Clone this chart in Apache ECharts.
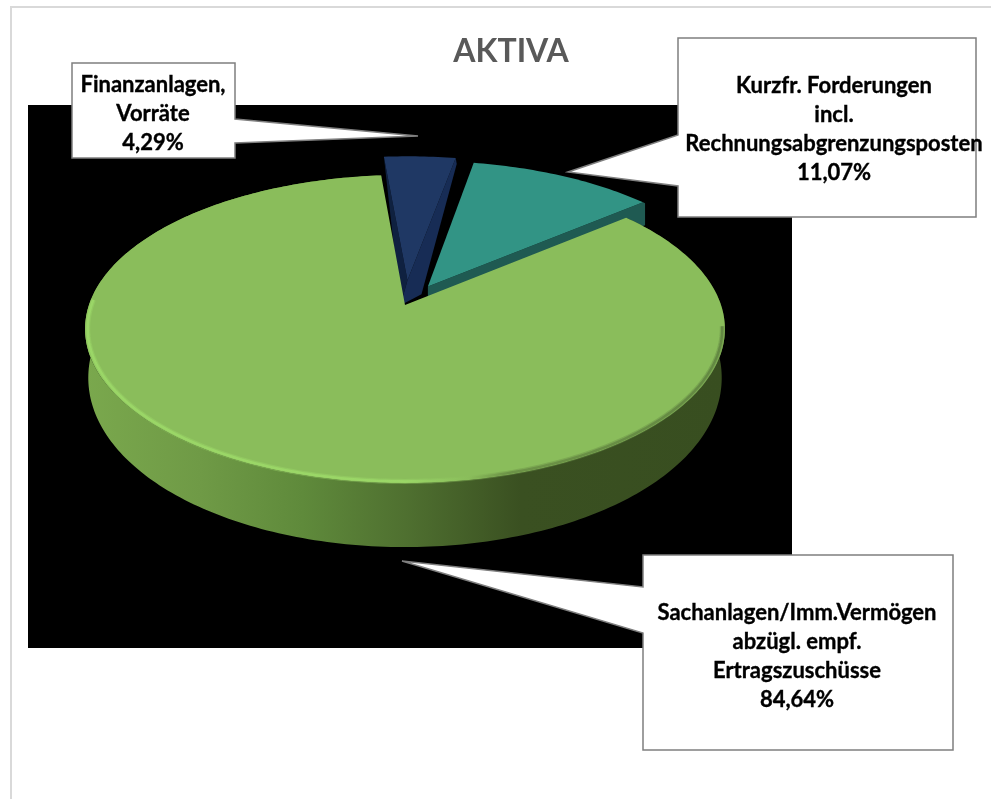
<!DOCTYPE html>
<html>
<head>
<meta charset="utf-8">
<style>
  html, body { margin: 0; padding: 0; background: #fff; }
  #main { width: 991px; height: 799px; }
</style>
<script src="https://cdn.jsdelivr.net/npm/echarts@6/dist/echarts.min.js"></script>
</head>
<body>
<div id="main"></div>
<script>
// data
const categories = [
  'Sachanlagen/Imm.Vermögen\nabzügl. empf.\nErtragszuschüsse',
  'Finanzanlagen,\nVorräte',
  'Kurzfr. Forderungen\nincl.\nRechnungsabgrenzungsposten'
];
const values = [84.64, 4.29, 11.07];
const explode = [0, 0.17, 0.146];
const drawOrder = [1, 2, 0];

// pie projection: unit circle on a tilted plane -> screen
const firstAngle = 50.3;
const cx = 405, cy = 305, ax = 316, by = 150.3, persp = 0.156;

const total = values.reduce((a, b) => a + b, 0);
const slices = [];
let run = firstAngle;
values.forEach((v, i) => {
  const span = v / total * 360;
  slices.push({ from: run, to: run + span, mid: run + span / 2, e: explode[i] });
  run += span;
});

function rad(d) { return d * Math.PI / 180; }

function project(slice, deg, r) {
  const u = r * Math.sin(rad(deg)) + slice.e * Math.sin(rad(slice.mid));
  const v = r * Math.cos(rad(deg)) + slice.e * Math.cos(rad(slice.mid));
  const w = 1 + persp * v;
  return [cx + ax * u / w, cy - by * v / w, v];
}

function arc(slice, from, to, r) {
  const pts = [];
  const n = Math.ceil(Math.abs(to - from));
  for (let i = 0; i <= n; i++) pts.push(project(slice, from + (to - from) * i / n, r));
  return pts;
}

function poly(points, style) {
  return { type: 'polygon', shape: { points: points.map(p => [p[0], p[1]]) }, style: style, silent: true };
}

function shift(p, dx, dy) { return [p[0] + dx, p[1] + dy]; }

const wallGradient = {
  type: 'linear', x: 85, y: 0, x2: 725, y2: 0, global: true,
  colorStops: [
    { offset: 0, color: '#7aa84d' },
    { offset: 0.18, color: '#6f9a46' },
    { offset: 0.34, color: '#5f8a3b' },
    { offset: 0.5, color: '#4f7030' },
    { offset: 0.68, color: '#3a5021' },
    { offset: 1, color: '#384e20' }
  ]
};
const rimGradient = {
  type: 'linear', x: 85, y: 0, x2: 725, y2: 0, global: true,
  colorStops: [
    { offset: 0, color: '#9cd968' },
    { offset: 0.5, color: '#9cd968' },
    { offset: 0.6, color: '#8abd5b' },
    { offset: 0.66, color: '#6a8f45' },
    { offset: 1, color: '#5f8340' }
  ]
};

function rimLine(points, width, opacity) {
  return { type: 'polyline', shape: { points: points.map(p => [p[0], p[1]]) }, silent: true,
    style: { stroke: rimGradient, lineWidth: width, fill: 'none', opacity: opacity } };
}

function renderGreen(slice) {
  const top = arc(slice, slice.from, slice.to, 1);
  const apex = project(slice, 0, 0);
  const low = top.map(p => [cx + (p[0] - cx) * 0.99, p[1] + 46 - 18 * p[2]]);
  const front = arc(slice, 98, 272, 0.992);
  return [
    poly(top.concat(low.slice().reverse()), { fill: wallGradient }),
    poly([apex].concat(top), { fill: '#8abd5b' }),
    rimLine(front, 5, 0.4),
    rimLine(front, 2.5, 0.85)
  ];
}

function renderBlue(slice) {
  const top = arc(slice, slice.from, slice.to, 1);
  const apex = project(slice, 0, 0);
  const left = top[0], right = top[top.length - 1];
  const lowApex = shift(apex, -7, 25);
  return [
    poly([left, apex, lowApex], { fill: '#0f2140' }),
    poly([right, shift(right, 1, 6), shift(apex, 14, 14), lowApex, apex], { fill: '#172c55' }),
    poly([apex].concat(top), { fill: '#1f3864' })
  ];
}

function renderTeal(slice) {
  const top = arc(slice, slice.from, slice.to, 1);
  const apex = project(slice, 0, 0);
  const end = top[top.length - 1];
  return [
    poly([apex, end, shift(end, 2, 1), shift(end, 2, 23), shift(apex, 0, 12)], { fill: '#1f5a52' }),
    poly([apex].concat(top), { fill: '#329485' })
  ];
}

const renderers = [renderGreen, renderBlue, renderTeal];

// callouts: label text comes from the arrays
function labelText(i) {
  return categories[i] + '\n' + values[i].toFixed(2).replace('.', ',') + '%';
}

function callout(points, textX, textY, i) {
  return [
    { type: 'polygon', z: 10, silent: true, shape: { points: points },
      style: { fill: '#fff', stroke: '#7f7f7f', lineWidth: 1.5 } },
    { type: 'text', z: 11, silent: true, x: textX, y: textY,
      style: { text: labelText(i), fill: '#000', stroke: '#000', lineWidth: 0.35, font: 'bold 22px Lato', lineHeight: 29, align: 'center', verticalAlign: 'top' } }
  ];
}

const option = {
  animation: false,
  backgroundColor: '#fff',
  title: {
    text: 'AKTIVA', left: 506, top: 31, textAlign: 'center',
    textStyle: { color: '#595959', fontFamily: 'Lato', fontWeight: 'bold', fontSize: 32 }
  },
  graphic: [
    { type: 'rect', z: 0, silent: true, shape: { x: 11, y: 7, width: 1100, height: 900 },
      style: { fill: '#fff', stroke: '#d9d9d9', lineWidth: 2 } },
    { type: 'rect', z: 0, silent: true, shape: { x: 28, y: 105, width: 764, height: 543 },
      style: { fill: '#000' } },
    ...callout([[72, 63], [235, 63], [235, 119], [418, 136], [235, 143], [235, 158], [72, 158]], 153, 70, 1),
    ...callout([[678, 38], [976, 38], [976, 217], [678, 217], [678, 186], [568, 172], [678, 135]], 834, 71, 2),
    ...callout([[643, 555], [953, 555], [953, 750], [643, 750], [643, 633], [402, 561], [643, 587]], 797, 598, 0)
  ],
  series: [{
    type: 'custom',
    coordinateSystem: 'none',
    silent: true,
    z: 2,
    data: drawOrder.map(i => [i, values[i]]),
    renderItem: function (params, api) {
      const i = api.value(0);
      return { type: 'group', children: renderers[i](slices[i]) };
    }
  }]
};

const myChart = echarts.init(document.getElementById('main'));
myChart.setOption(option);
</script>
</body>
</html>
